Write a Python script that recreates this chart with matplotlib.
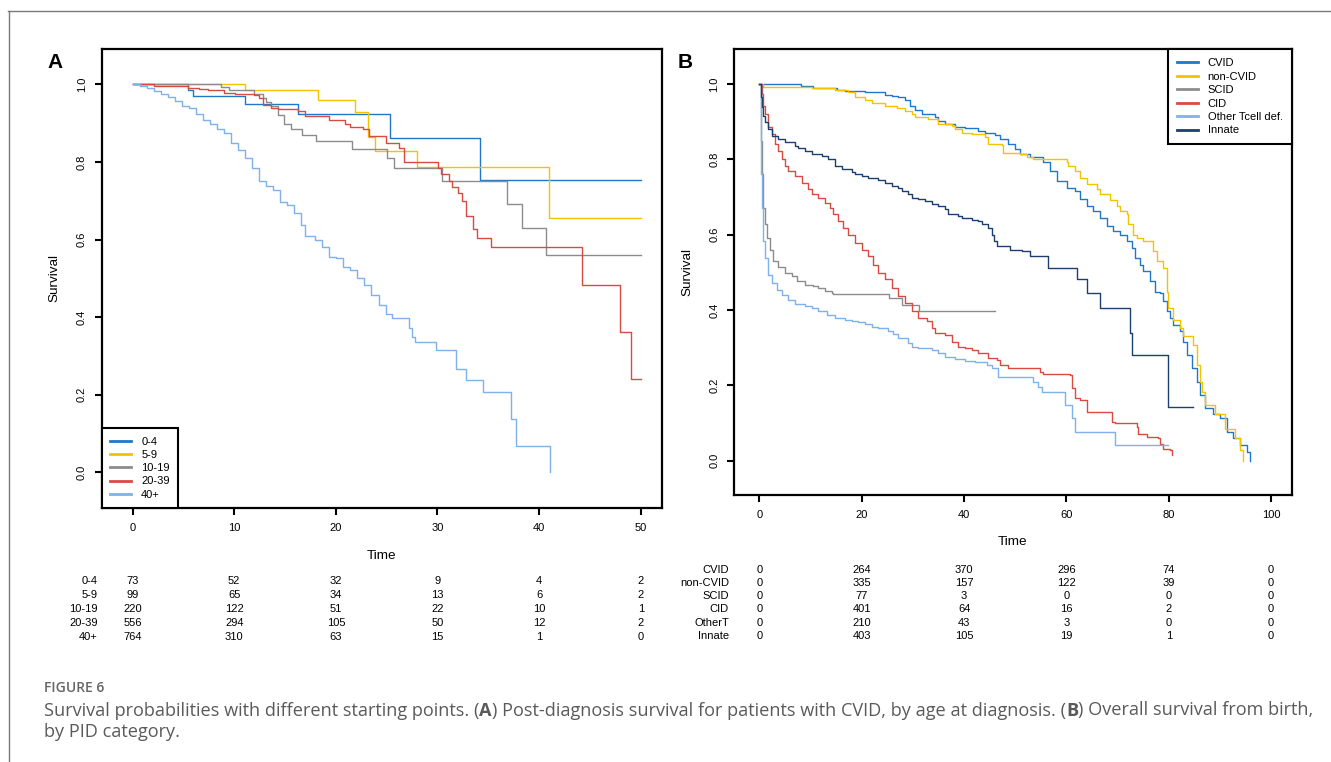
import matplotlib
matplotlib.use('Agg')
import matplotlib.pyplot as plt
from matplotlib.lines import Line2D
from matplotlib.transforms import blended_transform_factory

W, H, DPI = 1331, 762, 100
plt.rcParams['font.family'] = ['Liberation Sans', 'DejaVu Sans']

# ---------------- Panel A data (post-diagnosis survival, CVID by age at diagnosis)
groups_A = ['0-4', '5-9', '10-19', '20-39', '40+']
t_A_0_4 = [0, 5.44, 5.99, 11.1, 16.3, 25.3, 34.2, 50.0]
s_A_0_4 = [1.0, 0.985, 0.969, 0.950, 0.924, 0.863, 0.754, 0.754]
t_A_5_9 = [0, 11.1, 18.25, 21.85, 23.2, 23.85, 28.0, 41.0, 50.0]
s_A_5_9 = [1.0, 0.985, 0.959, 0.929, 0.865, 0.829, 0.788, 0.656, 0.656]
t_A_10_19 = [0, 8.66, 9.45, 11.93, 12.8, 13.14, 13.66, 14.35, 14.87, 15.56, 16.67, 18.05,
             21.6, 24.99, 25.68, 30.4, 36.8, 38.3, 40.7, 50.0]
s_A_10_19 = [1.0, 0.994, 0.985, 0.976, 0.964, 0.954, 0.944, 0.922, 0.897, 0.884, 0.869, 0.854,
             0.834, 0.810, 0.785, 0.750, 0.692, 0.629, 0.560, 0.560]
t_A_20_39 = [0, 2.09, 3.82, 5.44, 6.58, 7.44, 9.0, 10.04, 10.9, 11.93, 12.45, 12.8, 13.66, 14.35,
             16.25, 16.94, 19.36, 20.92, 21.43, 22.64, 23.23, 24.9, 26.2, 26.7, 30.07, 30.35, 31.1,
             31.45, 31.97, 32.4, 32.76, 33.52, 33.93, 35.25, 44.2, 48.0, 49.0, 50.0]
s_A_20_39 = [1.0, 0.997, 0.995, 0.991, 0.988, 0.985, 0.978, 0.976, 0.974, 0.972, 0.966, 0.948,
             0.940, 0.937, 0.931, 0.918, 0.909, 0.898, 0.890, 0.884, 0.866, 0.849, 0.836, 0.800,
             0.785, 0.769, 0.750, 0.736, 0.720, 0.700, 0.660, 0.627, 0.603, 0.580, 0.483, 0.362,
             0.241, 0.241]
t_A_40 = [0, 0.71, 1.40, 2.09, 2.78, 3.47, 4.16, 4.85, 5.54, 6.23, 6.93, 7.62, 8.31, 9.0, 9.69,
          10.38, 11.07, 11.76, 12.45, 13.14, 13.83, 14.52, 15.22, 15.91, 16.6, 16.94, 17.98, 18.67,
          19.36, 20.05, 20.74, 21.43, 22.12, 22.81, 23.5, 24.2, 24.9, 25.5, 27.2, 27.5, 27.8, 29.9,
          31.8, 32.8, 34.5, 37.2, 37.7, 41.1]
s_A_40 = [1.0, 0.996, 0.990, 0.983, 0.974, 0.967, 0.957, 0.944, 0.940, 0.924, 0.909, 0.898, 0.884,
          0.875, 0.849, 0.832, 0.810, 0.785, 0.750, 0.737, 0.728, 0.698, 0.690, 0.668, 0.638, 0.608,
          0.600, 0.582, 0.556, 0.552, 0.530, 0.521, 0.500, 0.483, 0.457, 0.431, 0.409, 0.397, 0.371,
          0.349, 0.336, 0.315, 0.267, 0.237, 0.207, 0.138, 0.069, 0.0]
risk_times_A = [0, 10, 20, 30, 40, 50]
risk_A = [[73, 52, 32, 9, 4, 2],
          [99, 65, 34, 13, 6, 2],
          [220, 122, 51, 22, 10, 1],
          [556, 294, 105, 50, 12, 2],
          [764, 310, 63, 15, 1, 0]]

# ---------------- Panel B data (overall survival from birth, by PID category)
groups_B = ['CVID', 'non-CVID', 'SCID', 'CID', 'Other Tcell def.', 'Innate']
table_labels_B = ['CVID', 'non-CVID', 'SCID', 'CID', 'OtherT', 'Innate']
t_B_cvid = [0, 8.1, 10.51, 15.07, 16.7, 20.61, 24.52, 25.83, 27.13, 28.43, 29.4, 30.38, 31.69, 34.3,
            34.95, 36.25, 38.21, 40.16, 42.77, 44.08, 46.03, 47.01, 48.64, 49.94, 50.92, 52.88,
            55.48, 56.79, 58.09, 60.05, 61.68, 62.65, 63.96, 65.26, 66.56, 67.87, 69.17, 70.47,
            71.78, 72.76, 73.41, 74.39, 75.04, 76.34, 77.32, 78.3, 78.95, 79.6, 80.25, 80.9, 82.21,
            82.86, 83.51, 84.49, 85.47, 86.12, 87.1, 88.73, 90.03, 91.33, 92.64, 93.94, 95.24, 95.9]
s_B_cvid = [1.0, 0.995, 0.989, 0.985, 0.982, 0.978, 0.972, 0.969, 0.965, 0.957, 0.942, 0.931, 0.920,
            0.911, 0.902, 0.893, 0.886, 0.882, 0.876, 0.871, 0.865, 0.853, 0.840, 0.827, 0.814,
            0.805, 0.794, 0.769, 0.743, 0.725, 0.716, 0.694, 0.676, 0.663, 0.645, 0.623, 0.609,
            0.600, 0.583, 0.565, 0.538, 0.520, 0.503, 0.476, 0.449, 0.445, 0.423, 0.396, 0.378,
            0.361, 0.343, 0.316, 0.281, 0.245, 0.210, 0.174, 0.139, 0.125, 0.112, 0.077, 0.059,
            0.041, 0.023, 0.0]
t_B_noncvid = [0, 0.73, 7.58, 10.18, 14.74, 17.35, 18.65, 20.61, 21.91, 24.52, 26.8, 28.43, 29.73,
               30.38, 32.99, 34.95, 37.55, 38.21, 39.51, 41.47, 44.08, 44.73, 47.33, 47.66, 50.92,
               52.22, 53.53, 60.05, 60.37, 61.68, 62.65, 63.96, 65.91, 66.56, 68.52, 69.82, 70.47,
               71.78, 72.1, 73.08, 73.73, 75.04, 76.67, 77.0, 77.64, 78.95, 79.6, 79.93, 80.9, 82.21,
               82.86, 84.81, 85.47, 86.12, 86.44, 87.1, 89.05, 91.01, 92.96, 93.94, 94.46]
s_B_noncvid = [1.0, 0.993, 0.991, 0.988, 0.984, 0.978, 0.965, 0.957, 0.949, 0.942, 0.936, 0.929,
               0.920, 0.911, 0.907, 0.895, 0.889, 0.880, 0.871, 0.867, 0.858, 0.840, 0.838, 0.818,
               0.814, 0.806, 0.800, 0.794, 0.782, 0.769, 0.751, 0.734, 0.720, 0.707, 0.691, 0.676,
               0.663, 0.654, 0.627, 0.600, 0.592, 0.584, 0.583, 0.556, 0.529, 0.512, 0.449, 0.405,
               0.374, 0.352, 0.330, 0.307, 0.254, 0.210, 0.183, 0.148, 0.125, 0.085, 0.059, 0.028,
               0.0]
t_B_scid = [0, 0.21, 0.40, 0.73, 1.06, 1.38, 2.03, 2.68, 3.66, 4.97, 6.27, 7.25, 8.88, 10.51, 11.48,
            12.79, 14.09, 14.42, 25.3, 27.78, 31.17, 46.03]
s_B_scid = [1.0, 0.849, 0.760, 0.671, 0.627, 0.592, 0.560, 0.529, 0.513, 0.498, 0.489, 0.476, 0.467,
            0.463, 0.457, 0.451, 0.445, 0.442, 0.433, 0.414, 0.396, 0.396]
t_B_cid = [0, 0.40, 0.73, 1.06, 1.71, 2.36, 3.01, 3.66, 4.32, 4.97, 5.62, 6.92, 8.23, 9.53, 10.18,
           11.48, 12.79, 13.77, 14.42, 15.4, 16.37, 17.35, 18.65, 19.96, 21.26, 22.24, 23.22, 24.52,
           25.83, 27.13, 28.43, 29.73, 31.04, 32.67, 33.64, 34.3, 36.25, 37.55, 38.86, 40.16, 41.47,
           42.77, 44.73, 46.36, 47.01, 48.64, 54.83, 55.48, 60.7, 61.02, 61.68, 62.65, 63.96, 68.85,
           69.5, 73.73, 74.06, 75.69, 77.97, 78.3, 78.95, 80.25, 80.58]
s_B_cid = [1.0, 0.973, 0.942, 0.920, 0.885, 0.867, 0.840, 0.822, 0.800, 0.782, 0.769, 0.756, 0.738,
           0.720, 0.707, 0.698, 0.685, 0.671, 0.654, 0.636, 0.618, 0.600, 0.578, 0.560, 0.543, 0.520,
           0.498, 0.481, 0.458, 0.436, 0.418, 0.396, 0.378, 0.370, 0.352, 0.338, 0.334, 0.316, 0.303,
           0.298, 0.294, 0.285, 0.272, 0.267, 0.254, 0.245, 0.236, 0.230, 0.227, 0.192, 0.165, 0.161,
           0.130, 0.103, 0.099, 0.090, 0.072, 0.063, 0.059, 0.045, 0.032, 0.028, 0.014]
t_B_othert = [0, 0.21, 0.27, 0.40, 0.73, 1.06, 1.71, 2.36, 3.34, 4.32, 5.62, 6.92, 8.88, 10.18, 11.48,
              13.12, 14.74, 16.7, 18.0, 19.31, 20.61, 21.91, 23.22, 25.17, 26.15, 27.13, 29.08, 29.73,
              31.04, 33.64, 34.95, 36.25, 38.21, 40.16, 42.12, 44.4, 45.38, 46.68, 53.53, 54.51, 55.16,
              59.72, 61.02, 61.68, 69.5, 79.93]
s_B_othert = [1.0, 0.893, 0.760, 0.671, 0.583, 0.538, 0.494, 0.472, 0.454, 0.441, 0.427, 0.416, 0.410,
              0.405, 0.396, 0.387, 0.380, 0.374, 0.371, 0.368, 0.362, 0.356, 0.352, 0.345, 0.336,
              0.325, 0.312, 0.303, 0.298, 0.294, 0.285, 0.274, 0.270, 0.265, 0.263, 0.254, 0.245,
              0.223, 0.210, 0.196, 0.183, 0.148, 0.112, 0.077, 0.041, 0.041]
t_B_innate = [0, 0.21, 0.40, 0.73, 1.06, 1.71, 2.36, 3.66, 4.97, 6.92, 7.58, 8.88, 10.18, 12.14, 13.44,
              14.74, 16.05, 18.0, 18.65, 19.96, 21.26, 23.22, 24.52, 25.83, 27.13, 27.78, 29.08, 29.73,
              31.04, 32.34, 33.64, 34.95, 36.25, 36.9, 38.86, 39.51, 41.47, 42.77, 43.42, 44.73, 45.38,
              45.9, 46.36, 48.96, 51.25, 52.88, 56.46, 62.0, 63.96, 66.56, 72.43, 72.76, 79.93, 84.81]
s_B_innate = [1.0, 0.965, 0.938, 0.916, 0.898, 0.880, 0.862, 0.853, 0.845, 0.836, 0.830, 0.821, 0.814,
              0.809, 0.800, 0.782, 0.774, 0.767, 0.762, 0.756, 0.750, 0.744, 0.738, 0.729, 0.725,
              0.716, 0.707, 0.698, 0.694, 0.689, 0.682, 0.676, 0.667, 0.654, 0.649, 0.643, 0.640,
              0.636, 0.627, 0.618, 0.600, 0.583, 0.571, 0.560, 0.556, 0.543, 0.512, 0.481, 0.445,
              0.405, 0.338, 0.281, 0.143, 0.143]
risk_times_B = [0, 20, 40, 60, 80, 100]
risk_B = [[0, 264, 370, 296, 74, 0],
          [0, 335, 157, 122, 39, 0],
          [0, 77, 3, 0, 0, 0],
          [0, 401, 64, 16, 2, 0],
          [0, 210, 43, 3, 0, 0],
          [0, 403, 105, 19, 1, 0]]

colors_A = ['#1f77cc', '#f3c300', '#8c8c8c', '#d94a43', '#7fb2ea']
colors_B = ['#1f77cc', '#f3c300', '#8c8c8c', '#d94a43', '#7fb2ea', '#1d3f6e']

# ---------------- figure
fig = plt.figure(figsize=(W / DPI, H / DPI), dpi=DPI)


def px_rect(l, t, r, b):
    return [l / W, 1 - b / H, (r - l) / W, (b - t) / H]


axA = fig.add_axes(px_rect(101.7, 48.7, 661.5, 508))
axB = fig.add_axes(px_rect(733.9, 49.3, 1291.6, 495.3))

series_A = [(t_A_0_4, s_A_0_4), (t_A_5_9, s_A_5_9), (t_A_10_19, s_A_10_19),
            (t_A_20_39, s_A_20_39), (t_A_40, s_A_40)]
series_B = [(t_B_cvid, s_B_cvid), (t_B_noncvid, s_B_noncvid), (t_B_scid, s_B_scid),
            (t_B_cid, s_B_cid), (t_B_othert, s_B_othert), (t_B_innate, s_B_innate)]

for (t, s), lab, c in zip(series_A, groups_A, colors_A):
    axA.step(t, s, where='post', color=c, lw=1.0, label=lab)
for (t, s), lab, c in zip(series_B, groups_B, colors_B):
    axB.step(t, s, where='post', color=c, lw=1.0, label=lab)


def style(ax, xlim, xticks):
    ax.set_xlim(*xlim)
    ax.set_ylim(-0.092, 1.092)
    ax.set_xticks(xticks)
    ax.set_xticklabels([str(v) for v in xticks])
    yt = [0.0, 0.2, 0.4, 0.6, 0.8, 1.0]
    ax.set_yticks(yt)
    ax.set_yticklabels(['%.1f' % v for v in yt], rotation=90, va='center')
    ax.tick_params(direction='out', length=5.0, width=1.5, labelsize=8, pad=5.5)
    for sp in ax.spines.values():
        sp.set_linewidth(1.6)
    ax.text(-0.084, 0.5, 'Survival', rotation=90, transform=ax.transAxes,
            ha='center', va='center', fontsize=9.7)


style(axA, (-3.04, 52.04), [0, 10, 20, 30, 40, 50])
style(axB, (-5.0, 104.0), [0, 20, 40, 60, 80, 100])
axA.text(0.5, -0.1045, 'Time', transform=axA.transAxes, ha='center', va='center', fontsize=9.7)
axB.text(0.5, -0.1054, 'Time', transform=axB.transAxes, ha='center', va='center', fontsize=9.7)

legA = axA.legend(loc='lower left', bbox_to_anchor=(0, 0), borderaxespad=0, fancybox=False,
                  edgecolor='black', framealpha=1, fontsize=8, handlelength=1.9,
                  handletextpad=0.9, labelspacing=0.29, borderpad=0.75)
legA.get_frame().set_linewidth(1.5)
legB = axB.legend(loc='upper right', bbox_to_anchor=(1, 1), borderaxespad=0, fancybox=False,
                  edgecolor='black', framealpha=1, fontsize=8, handlelength=1.9,
                  handletextpad=0.9, labelspacing=0.31, borderpad=0.8)
legB.get_frame().set_linewidth(1.5)
for leg in (legA, legB):
    for ln in leg.get_lines():
        ln.set_linewidth(2.0)

# risk tables
trA = blended_transform_factory(axA.transData, fig.transFigure)
trA_lab = blended_transform_factory(axA.transAxes, fig.transFigure)
for i, (lab, row) in enumerate(zip(groups_A, risk_A)):
    y = 1 - (581.3 + 13.8 * i) / H
    axA.text(-0.0073, y, lab, transform=trA_lab, ha='right', va='center', fontsize=8)
    for tt, v in zip(risk_times_A, row):
        axA.text(tt, y, str(v), transform=trA, ha='center', va='center', fontsize=8)

trB = blended_transform_factory(axB.transData, fig.transFigure)
trB_lab = blended_transform_factory(axB.transAxes, fig.transFigure)
for i, (lab, row) in enumerate(zip(table_labels_B, risk_B)):
    y = 1 - (570.0 + 13.15 * i) / H
    axB.text(-0.0088, y, lab, transform=trB_lab, ha='right', va='center', fontsize=8)
    for tt, v in zip(risk_times_B, row):
        axB.text(tt, y, str(v), transform=trB, ha='center', va='center', fontsize=8)

# panel letters
fig.text(47 / W, 1 - 68 / H, 'A', fontsize=15, fontweight='bold', ha='left', va='baseline')
fig.text(678 / W, 1 - 68 / H, 'B', fontsize=15, fontweight='bold', ha='left', va='baseline')

# outer frame lines
fig.add_artist(Line2D([8 / W, 1], [1 - 11 / H, 1 - 11 / H], transform=fig.transFigure,
                      color='#7a7a7a', lw=1.0))
fig.add_artist(Line2D([9 / W, 9 / W], [1 - 11 / H, 0], transform=fig.transFigure,
                      color='#7a7a7a', lw=1.0))

# caption
cap_font = ['Open Sans', 'DejaVu Sans']
fig.text(44 / W, 1 - 692 / H, 'FIGURE 6', fontsize=10, fontweight='semibold', family=cap_font,
         color='#666666', va='baseline', ha='left')
renderer = fig.canvas.get_renderer()
pieces = [("Survival probabilities with different starting points. (", False), ("A", True),
          (") Post-diagnosis survival for patients with CVID, by age at diagnosis. (", False),
          ("B", True), (") Overall survival from birth,", False)]
x = 44.0
for txt, bold in pieces:
    tobj = fig.text(x / W, 1 - 715.5 / H, txt, fontsize=13.1, family=cap_font,
                    fontweight='bold' if bold else 'normal', color='#5a5a5a',
                    va='baseline', ha='left')
    x = tobj.get_window_extent(renderer).x1
fig.text(44 / W, 1 - 737 / H, 'by PID category.', fontsize=13.1, family=cap_font, color='#5a5a5a',
         va='baseline', ha='left')

fig.savefig('out.png', dpi=DPI)
